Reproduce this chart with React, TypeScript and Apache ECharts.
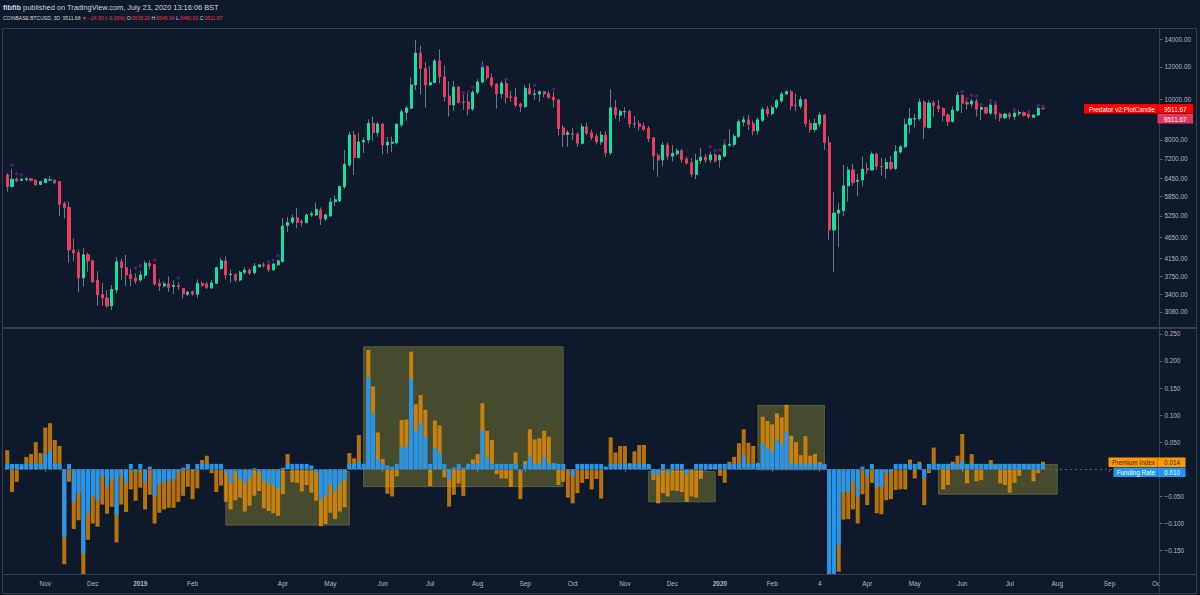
import React, { useEffect, useRef } from 'react';
import * as echarts from 'echarts';

// ---------- data ----------
const firstBarDate = '2018-10-08';
const barDays = 3;
const slotCount = 243;

const opens = [
  6584, 6180, 6440, 6390, 6420, 6450, 6400, 6250, 6310, 6400,
  6400, 6350, 5620, 5500, 4344, 4280, 3720, 4230, 4090, 3678,
  3390, 3330, 3185, 3480, 4070, 3940, 3790, 3720, 3678, 3775,
  4035, 4005, 3610, 3560, 3600, 3545, 3570, 3510, 3400, 3450,
  3400, 3610, 3600, 3520, 3610, 3920, 4090, 3790, 3790, 3678,
  3840, 3885, 3830, 3960, 4000, 4000, 3890, 4000, 4080, 4980,
  5070, 5190, 5090, 5050, 5280, 5275, 5420, 5160, 5250, 5680,
  5700, 6170, 6960, 8220, 7250, 7910, 7995, 8770, 8330, 8740,
  7776, 7850, 7880, 8690, 9320, 9540, 10850, 12950, 11880, 10850,
  11000, 12400, 11350, 10200, 9710, 10720, 9880, 9880, 9500, 10420,
  11030, 12000, 11300, 10900, 10330, 10950, 10160, 10150, 9760, 9620,
  10650, 10300, 10320, 10450, 10350, 10150, 9990, 8550, 8250, 8280,
  8250, 7850, 8600, 8320, 8150, 7910, 8220, 7450, 9580, 9170,
  9350, 9370, 8770, 8740, 8640, 8530, 8090, 7330, 7156, 7776,
  7310, 7410, 7530, 7200, 7050, 6610, 7140, 7270, 7160, 7360,
  7156, 7310, 7770, 7800, 8160, 8830, 8940, 8760, 8410, 8920,
  9480, 9260, 9600, 9930, 10320, 10450, 9700, 9640, 10000, 8760,
  8470, 8740, 9184, 7880, 4854, 5330, 5400, 6200, 6771, 6360,
  6405, 6830, 6771, 7390, 6900, 6830, 7060, 6830, 7480, 7700,
  8720, 8980, 9000, 9870, 8570, 9840, 9670, 9520, 9184, 8860,
  9420, 10240, 9840, 9760, 9920, 9480, 9570, 9280, 9708, 9230,
  9050, 9230, 9100, 9250, 9310, 9230, 9070, 9184, 9536.2,
];
const highs = [
  6645, 6800, 6500, 6480, 6500, 6480, 6430, 6380, 6470, 6550,
  6420, 6360, 5680, 5680, 4630, 4360, 4400, 4280, 4120, 3860,
  3620, 3480, 3577, 4170, 4140, 4225, 3910, 3820, 3870, 4095,
  4100, 4020, 3690, 3650, 3750, 3678, 3640, 3520, 3460, 3470,
  3690, 3650, 3640, 3680, 3960, 4165, 4190, 3900, 3820, 3870,
  3950, 3920, 4040, 4010, 4050, 4030, 4050, 4120, 5190, 5220,
  5280, 5480, 5150, 5320, 5390, 5660, 5500, 5320, 5800, 5870,
  6200, 7560, 8370, 8400, 8330, 8100, 8970, 9100, 8850, 8770,
  8130, 8150, 8770, 9480, 9660, 11300, 13900, 13480, 12310, 12050,
  12550, 13230, 12090, 11080, 11100, 10780, 10300, 10370, 10550, 11200,
  12360, 12080, 11570, 10950, 11100, 11200, 10500, 10650, 9830, 10850,
  10950, 10600, 10550, 10500, 10500, 10450, 10050, 8680, 8450, 8550,
  8350, 8750, 8800, 8480, 8280, 8400, 8400, 10600, 9980, 9480,
  9600, 9460, 9150, 8900, 8800, 8640, 8120, 7430, 7900, 7880,
  7770, 7650, 7620, 7290, 7230, 7410, 7660, 7400, 7500, 7430,
  7400, 7880, 8480, 8260, 8960, 9120, 9184, 8900, 9060, 9600,
  9650, 9700, 10050, 10450, 10550, 10550, 10350, 10200, 10050, 8950,
  9000, 9350, 9230, 8160, 6000, 5650, 6960, 6900, 7000, 6620,
  7290, 7060, 7500, 7450, 7230, 7230, 7330, 7776, 7776, 9000,
  9530, 9250, 10050, 9960, 9960, 9960, 9980, 9600, 9260, 9640,
  10450, 10300, 10000, 10050, 10050, 9650, 9620, 9830, 9800, 9300,
  9270, 9330, 9400, 9440, 9360, 9330, 9230, 9600, 9549.94,
];
const lows = [
  6000, 6150, 6330, 6360, 6350, 6360, 6200, 6230, 6300, 6380,
  6250, 5240, 5180, 4050, 4070, 3440, 3550, 3850, 3620, 3190,
  3190, 3150, 3114, 3420, 3678, 3560, 3550, 3600, 3640, 3710,
  3900, 3560, 3460, 3530, 3440, 3400, 3480, 3320, 3360, 3375,
  3330, 3550, 3500, 3500, 3600, 3890, 3690, 3630, 3640, 3650,
  3790, 3780, 3790, 3950, 3940, 3840, 3870, 3980, 4050, 4800,
  5020, 4900, 4940, 5040, 5220, 5250, 4990, 5100, 5220, 5550,
  5680, 6100, 6880, 6584, 7230, 7440, 7850, 7960, 8140, 7390,
  7420, 7480, 7800, 8590, 8900, 9500, 10550, 10300, 9570, 10800,
  10950, 10960, 9900, 9110, 9400, 9780, 9450, 9170, 9380, 10320,
  10950, 11150, 10700, 9520, 10050, 9800, 9880, 9580, 9350, 9560,
  10260, 10000, 9880, 10150, 10050, 9580, 8200, 7700, 7700, 7995,
  7700, 7800, 8200, 7990, 7800, 7780, 7280, 7357, 9000, 8850,
  9050, 8560, 8560, 8430, 8400, 7900, 6771, 6520, 6900, 7160,
  7100, 7330, 7050, 6980, 6520, 6430, 7000, 7050, 7050, 7050,
  6860, 7250, 7700, 7700, 8100, 8620, 8450, 8200, 8230, 8830,
  9100, 9160, 9480, 9800, 10250, 9440, 9380, 9500, 8590, 8330,
  8330, 8600, 7570, 4600, 3850, 4410, 5250, 5680, 6200, 5860,
  6170, 6610, 6750, 6771, 6560, 6460, 6750, 6771, 7410, 7650,
  8300, 8560, 8900, 8040, 8520, 9100, 9330, 8870, 8640, 8800,
  9320, 9290, 9450, 9570, 9100, 8930, 9230, 9180, 8970, 8870,
  8980, 8970, 8930, 9130, 9110, 9000, 9050, 9130, 9480.01,
];
const closes = [
  6170, 6430, 6380, 6430, 6450, 6390, 6240, 6350, 6440, 6410,
  6310, 5600, 5490, 4344, 4270, 3720, 4230, 4090, 3640, 3385,
  3330, 3185, 3490, 4070, 3940, 3782, 3700, 3660, 3782, 4035,
  3975, 3600, 3560, 3600, 3530, 3570, 3540, 3400, 3440, 3400,
  3610, 3570, 3530, 3620, 3940, 4090, 3782, 3800, 3678, 3840,
  3885, 3820, 3970, 4000, 3985, 3890, 4020, 4090, 4960, 5060,
  5190, 5060, 5050, 5275, 5310, 5440, 5160, 5275, 5670, 5740,
  6180, 6990, 8220, 7250, 7910, 7970, 8770, 8330, 8740, 7776,
  7900, 7900, 8730, 9350, 9550, 10850, 12950, 11880, 10850, 11000,
  12400, 11350, 10170, 9710, 10720, 9850, 9850, 9500, 10410, 11030,
  12000, 11300, 10850, 10320, 10950, 10130, 10130, 9710, 9620, 10650,
  10320, 10330, 10450, 10320, 10120, 9980, 8520, 8230, 8330, 8250,
  7850, 8600, 8300, 8110, 7910, 8220, 7450, 9560, 9184, 9370,
  9370, 8740, 8730, 8610, 8480, 8060, 7330, 7156, 7776, 7310,
  7430, 7530, 7180, 7030, 6610, 7140, 7270, 7156, 7360, 7120,
  7330, 7776, 7810, 8160, 8850, 8940, 8720, 8400, 8940, 9480,
  9260, 9560, 9940, 10320, 10450, 9650, 9660, 10000, 8760, 8470,
  8760, 9184, 7880, 4854, 5330, 5420, 6200, 6771, 6310, 6400,
  6800, 6771, 7390, 6900, 6880, 7060, 6830, 7500, 7700, 8720,
  9000, 9010, 9870, 8590, 9810, 9660, 9500, 9150, 8850, 9443,
  10240, 9800, 9760, 9920, 9480, 9570, 9280, 9708, 9230, 9050,
  9230, 9100, 9270, 9310, 9170, 9090, 9184, 9536, 9511.67,
];

const fundingRate = [
  0.010, 0.010, 0.010, 0.010, 0.010, 0.010, 0.010, 0.010, 0.028, 0.034,
  0.010, 0.010, -0.125, 0.010, -0.060, -0.044, -0.155, -0.081, -0.050, -0.057,
  -0.013, -0.032, -0.018, -0.084, -0.012, -0.025, 0.010, -0.006, 0.010, -0.023,
  0.005, -0.049, -0.028, -0.022, -0.022, -0.018, -0.006, 0.003, 0.010, -0.003,
  0.010, 0.010, 0.010, 0.010, 0.010, 0.010, -0.007, -0.025, -0.006, -0.018,
  -0.026, -0.017, 0.002, -0.006, -0.022, -0.026, -0.030, -0.036, 0.003, 0.010,
  0.010, 0.010, 0.010, 0.010, 0.007, -0.006, -0.055, -0.049, -0.028, -0.040,
  -0.027, -0.018, 0.010, 0.010, 0.014, 0.010, 0.170, 0.103, 0.018, 0.010,
  0.007, 0.005, 0.010, 0.040, 0.042, 0.166, 0.070, 0.085, 0.060, 0.010,
  0.040, 0.030, 0.010, -0.018, 0.003, 0.010, 0.003, 0.010, 0.010, 0.010,
  0.071, 0.022, 0.010, 0.010, 0.010, 0.010, 0.010, 0.010, -0.004, 0.010,
  0.023, 0.010, 0.010, 0.022, 0.010, 0.011, 0.010, 0.010, -0.001, -0.013,
  0.010, 0.010, 0.010, 0.010, 0.010, 0.010, 0.005, 0.010, 0.010, 0.010,
  0.010, 0.010, 0.010, 0.010, 0.010, 0.010, -0.010, -0.010, 0.010, -0.007,
  0.010, 0.010, 0.010, -0.010, -0.001, 0.010, 0.010, 0.010, 0.010, 0.010,
  0.010, 0.010, 0.010, 0.010, 0.010, 0.025, 0.010, 0.010, 0.011, 0.048,
  0.039, 0.033, 0.054, 0.046, 0.068, 0.011, 0.010, 0.010, 0.010, 0.010,
  0.010, 0.010, 0.010, -0.250, -0.230, -0.140, -0.043, -0.041, -0.023, -0.050,
  0.005, -0.013, 0.010, -0.032, -0.032, -0.007, -0.006, 0.010, 0.010, 0.010,
  0.010, 0.010, 0.010, -0.017, 0.010, 0.010, 0.010, 0.010, 0.010, 0.010,
  0.010, 0.015, 0.010, 0.010, 0.010, 0.010, 0.010, 0.010, 0.010, 0.010,
  0.010, 0.010, 0.010, 0.010, 0.010, 0.010, 0.010, 0.010, 0.010,
];
const premiumIndex = [
  0.035, -0.042, -0.023, 0.005, 0.023, 0.028, 0.050, 0.030, 0.077, 0.085,
  0.054, 0.043, -0.175, -0.023, -0.110, -0.094, -0.210, -0.130, -0.100, -0.106,
  -0.065, -0.082, -0.069, -0.135, -0.065, -0.079, -0.037, -0.058, -0.034, -0.074,
  -0.047, -0.100, -0.080, -0.074, -0.071, -0.071, -0.060, -0.049, -0.032, -0.055,
  -0.035, 0.017, 0.025, -0.007, -0.042, -0.030, -0.060, -0.074, -0.057, -0.052,
  -0.078, -0.067, -0.049, -0.040, -0.072, -0.077, -0.081, -0.086, -0.046, 0.028,
  -0.024, -0.025, -0.041, -0.029, -0.043, -0.058, -0.105, -0.101, -0.080, -0.092,
  -0.078, -0.070, 0.030, 0.020, 0.063, 0.005, 0.220, 0.153, 0.068, 0.019,
  -0.045, -0.050, -0.013, 0.091, 0.092, 0.217, 0.120, 0.137, 0.110, -0.031,
  0.090, 0.081, -0.015, -0.069, -0.047, -0.026, -0.049, 0.005, 0.018, 0.028,
  0.122, 0.071, 0.054, -0.009, -0.017, -0.017, -0.032, 0.031, -0.055, 0.015,
  0.074, 0.055, 0.057, 0.071, 0.060, 0.011, -0.029, -0.023, -0.052, -0.063,
  -0.044, -0.025, -0.018, -0.037, -0.018, -0.054, 0.003, 0.059, 0.031, 0.043,
  0.043, 0.011, 0.033, 0.045, 0.045, 0.008, -0.020, -0.063, -0.044, -0.050,
  -0.039, -0.040, -0.042, -0.060, -0.050, -0.052, -0.018, -0.002, 0.006, 0.006,
  -0.012, -0.025, 0.014, 0.023, 0.048, 0.074, 0.049, 0.043, 0.011, 0.097,
  0.089, 0.083, 0.103, 0.096, 0.119, 0.062, 0.050, 0.026, 0.061, 0.025,
  0.028, 0.013, 0.008, -0.300, -0.280, -0.189, -0.093, -0.092, -0.074, -0.100,
  -0.046, -0.066, -0.025, -0.081, -0.083, -0.057, -0.055, -0.038, -0.037, -0.037,
  0.018, -0.017, 0.014, -0.066, -0.007, 0.040, -0.001, -0.037, -0.029, 0.014,
  0.025, 0.065, -0.026, 0.028, -0.022, -0.020, 0.008, 0.017, 0.008, -0.026,
  -0.029, -0.043, -0.025, -0.012, 0.008, 0.008, -0.022, -0.007, 0.014,
];

// Predator dots (bar index, price)
const dotBars = [1, 2, 3, 27, 28, 31, 36, 55, 56, 57, 96, 97, 98, 100, 105, 111, 115, 148, 149, 150, 151, 201, 202, 203, 204, 205, 207, 208, 212, 215, 217, 218];
const dotPrices = [6960, 6630, 6590, 3930, 3980, 4110, 3725, 4070, 4110, 4210, 10390, 10450, 10720, 12080, 11200, 10850, 10610, 7700, 7530, 7564, 7960, 10450, 10060, 10240, 10200, 9730, 9940, 9850, 9470, 9360, 9690, 9650];

// highlight boxes: [fromBar, toBar, topValue, bottomValue]
const boxFromBar = [46, 75, 135, 158, 196];
const boxToBar = [72, 117, 149, 172, 221];
const boxTop = [-0.004, 0.226, -0.004, 0.118, 0.009];
const boxBottom = [-0.103, -0.032, -0.060, -0.001, -0.046];

const monthTickBar = [8, 18, 28, 39, 58, 68, 79, 89, 99, 109, 119, 130, 140, 150, 161, 171, 181, 191, 201, 211, 221, 232, 242];
const monthTickText = ['Nov', 'Dec', '2019', 'Feb', 'Apr', 'May', 'Jun', 'Jul', 'Aug', 'Sep', 'Oct', 'Nov', 'Dec', '2020', 'Feb', '4', 'Apr', 'May', 'Jun', 'Jul', 'Aug', 'Sep', 'Oct'];

const priceTicks = [3080, 3400, 3750, 4150, 4650, 5250, 5850, 6450, 7200, 8000, 9000, 10000, 12000, 14000];
const rateTicks = [-0.15, -0.1, -0.05, 0.05, 0.1, 0.15, 0.2, 0.25];

// ---------- style ----------
const BG = '#0e1a2b';
const FRAME = '#363c4e';
const AXIS_TEXT = '#b2b5be';
const UP = '#0fe2a2';
const DOWN = '#ec3b5c';
const WICK = '#737785';
const FONT = 'Liberation Sans, Arial, sans-serif';
const FS = 6.4;
const HFS2 = 5;

function buildCategories(): string[] {
  const out: string[] = [];
  const t0 = Date.parse(firstBarDate + 'T00:00:00Z');
  for (let k = 0; k < slotCount; k++) {
    const d = new Date(t0 + k * barDays * 86400000);
    out.push(d.toISOString().slice(0, 10));
  }
  return out;
}

function fmtRate(v: number): string {
  return (v < 0 ? '\u2212' : '') + Math.abs(v).toFixed(3);
}

export default function App() {
  const ref = useRef<HTMLDivElement>(null);
  useEffect(() => {
    const chart = echarts.init(ref.current!, null, { renderer: 'svg', width: 1200, height: 595 });
    const cats = buildCategories();
    const labelMap: Record<number, string> = {};
    monthTickBar.forEach((b, i) => (labelMap[b] = monthTickText[i]));

    const wickData = opens.map((o, i) => [o, closes[i], lows[i], highs[i]]);
    const bodyData = opens.map((o, i) => [o, closes[i], Math.min(o, closes[i]), Math.max(o, closes[i])]);
    const dots = dotBars.map((b, i) => [b, dotPrices[i]]);
    const boxes = boxFromBar.map((b, i) => [
      { xAxis: b, yAxis: boxTop[i] },
      { xAxis: boxToBar[i], yAxis: boxBottom[i] },
    ]);

    const gridLeft = 4.9;
    const gridWidth = 1154.5;
    const gridRight = 1200 - gridLeft - gridWidth;

    const lastClose = closes[closes.length - 1];
    const lastPrem = premiumIndex[premiumIndex.length - 1];
    const lastFund = fundingRate[fundingRate.length - 1];

    const option: any = {
      animation: false,
      backgroundColor: BG,
      textStyle: { fontFamily: FONT },
      grid: [
        { left: gridLeft, right: gridRight, top: 30, height: 297 },
        { left: gridLeft, right: gridRight, top: 329, height: 245 },
      ],
      xAxis: [
        { type: 'category', gridIndex: 0, data: cats, show: false, boundaryGap: true },
        {
          type: 'category', gridIndex: 1, data: cats, boundaryGap: true,
          axisLine: { show: false },
          axisTick: {
            show: true, alignWithLabel: true, length: 3,
            interval: (i: number) => labelMap[i] !== undefined,
            lineStyle: { color: '#5d6373' },
          },
          axisLabel: {
            interval: (i: number) => labelMap[i] !== undefined,
            formatter: (_v: string, i: number) => {
              const t = labelMap[i] || '';
              return /^\d{4}$/.test(t) ? '{y|' + t + '}' : t;
            },
            rich: { y: { fontWeight: 'bold', color: AXIS_TEXT, fontSize: FS, fontFamily: FONT } },
            color: AXIS_TEXT, fontSize: FS, fontFamily: FONT, margin: 6,
          },
          splitLine: { show: false },
        },
      ],
      yAxis: [
        {
          type: 'log', logBase: 10, gridIndex: 0, position: 'right',
          min: 2834, max: 14717,
          axisLine: { show: false },
          axisTick: { show: true, length: 3, customValues: priceTicks, lineStyle: { color: '#5d6373' } },
          axisLabel: {
            customValues: priceTicks,
            formatter: (v: number) => Number(v).toFixed(2),
            color: AXIS_TEXT, fontSize: FS, fontFamily: FONT, margin: 5,
          },
          splitLine: { show: false },
        },
        {
          type: 'value', gridIndex: 1, position: 'right',
          min: -0.1932, max: 0.2589,
          axisLine: { show: false },
          axisTick: { show: true, length: 3, customValues: rateTicks, lineStyle: { color: '#5d6373' } },
          axisLabel: {
            customValues: rateTicks,
            formatter: (v: number) => fmtRate(v),
            color: AXIS_TEXT, fontSize: FS, fontFamily: FONT, margin: 5,
          },
          splitLine: { show: false },
        },
      ],
      series: [
        {
          name: 'wick', type: 'candlestick', xAxisIndex: 0, yAxisIndex: 0,
          data: wickData, barWidth: 1, silent: true,
          itemStyle: { color: WICK, color0: WICK, borderColor: WICK, borderColor0: WICK, borderWidth: 1 },
        },
        {
          name: 'body', type: 'candlestick', xAxisIndex: 0, yAxisIndex: 0,
          data: bodyData, barWidth: 2.6, silent: true,
          itemStyle: { color: UP, color0: DOWN, borderColor: UP, borderColor0: DOWN, borderWidth: 1 },
        },
        {
          name: 'dots', type: 'scatter', xAxisIndex: 0, yAxisIndex: 0,
          data: dots, symbolSize: 3.6, silent: true,
          itemStyle: { color: '#58207c' },
        },
        {
          name: 'Premium Index', type: 'bar', xAxisIndex: 1, yAxisIndex: 1,
          data: premiumIndex, barWidth: 4, barGap: '-100%', clip: true, silent: true,
          itemStyle: { color: 'rgba(255,152,0,0.7)' },
          markLine: {
            silent: true, symbol: 'none', label: { show: false },
            lineStyle: { color: '#5d6373', type: [2, 3], width: 1 },
            data: [{ yAxis: 0 }],
          },
        },
        {
          name: 'Funding Rate', type: 'bar', xAxisIndex: 1, yAxisIndex: 1,
          data: fundingRate, barWidth: 4, barGap: '-100%', clip: true, silent: true,
          itemStyle: { color: '#2196f3' },
        },
        {
          name: 'boxes', type: 'line', xAxisIndex: 1, yAxisIndex: 1, data: [], z: 10, silent: true,
          markArea: {
            silent: true,
            itemStyle: { color: 'rgba(255,235,59,0.24)', borderColor: 'rgba(95,98,70,0.9)', borderWidth: 1 },
            data: boxes,
          },
        },
      ],
      graphic: [
        // frame
        { type: 'rect', z: 50, silent: true, shape: { x: 1160, y: 575, width: 36, height: 17 }, style: { fill: BG } },
        { type: 'rect', z: 51, silent: true, shape: { x: 2.5, y: 28.5, width: 1194, height: 565 }, style: { fill: 'none', stroke: FRAME, lineWidth: 1 } },
        { type: 'rect', z: 51, silent: true, shape: { x: 3, y: 327, width: 1193, height: 2 }, style: { fill: FRAME } },
        { type: 'line', z: 51, silent: true, shape: { x1: 3, y1: 574.5, x2: 1196, y2: 574.5 }, style: { stroke: FRAME, lineWidth: 1 } },
        { type: 'line', z: 51, silent: true, shape: { x1: 1159.5, y1: 29, x2: 1159.5, y2: 593 }, style: { stroke: FRAME, lineWidth: 1 } },
        // header
        {
          type: 'text', z: 60, x: 3, y: 7, silent: true,
          style: {
            text: '{b|fibfib} published on TradingView.com, July 23, 2020 13:16:06 BST',
            fill: '#d1d4dc', fontSize: 7.4, fontFamily: FONT, verticalAlign: 'middle',
            rich: { b: { fontWeight: 'bold', fill: '#d1d4dc', fontSize: 7.4, fontFamily: FONT } },
          },
        },
        {
          type: 'text', z: 60, x: 3, y: 18, silent: true,
          style: {
            text: '{w|COINBASE:BTCUSD, 3D}  {w|9511.68} {r|\u25BC \u221224.50 (\u22120.26%)} {w|O:}{r|9536.20} {w|H:}{r|9549.94} {w|L:}{r|9480.01} {w|C:}{r|9511.67}',
            fill: '#d1d4dc', fontSize: HFS2, fontFamily: FONT, verticalAlign: 'middle',
            rich: {
              w: { fill: '#d1d4dc', fontSize: HFS2, fontFamily: FONT },
              r: { fill: '#f0394f', fontSize: HFS2, fontFamily: FONT },
            },
          },
        },
        // price labels
        { type: 'rect', z: 60, silent: true, shape: { x: 1084, y: 104, width: 73.5, height: 9.5 }, style: { fill: '#ff0000' } },
        { type: 'text', z: 61, silent: true, x: 1155, y: 109, style: { text: 'Predator v2:PlotCandle', fill: '#ffffff', fontSize: FS, fontFamily: FONT, align: 'right', verticalAlign: 'middle' } },
        { type: 'rect', z: 60, silent: true, shape: { x: 1157.5, y: 104, width: 35.5, height: 9.5 }, style: { fill: '#ff0000' } },
        { type: 'text', z: 61, silent: true, x: 1164, y: 109, style: { text: lastClose.toFixed(2), fill: '#ffffff', fontSize: FS, fontFamily: FONT, verticalAlign: 'middle' } },
        { type: 'rect', z: 60, silent: true, shape: { x: 1157.5, y: 114, width: 35.5, height: 9.5 }, style: { fill: '#e5355d' } },
        { type: 'text', z: 61, silent: true, x: 1164, y: 119, style: { text: lastClose.toFixed(2), fill: '#ffffff', fontSize: FS, fontFamily: FONT, verticalAlign: 'middle' } },
        // rate labels
        { type: 'rect', z: 60, silent: true, shape: { x: 1108.5, y: 457.5, width: 49, height: 9.5 }, style: { fill: '#ff9800' } },
        { type: 'text', z: 61, silent: true, x: 1155, y: 462.3, style: { text: 'Premium Index', fill: '#3a2a10', fontSize: FS, fontFamily: FONT, align: 'right', verticalAlign: 'middle' } },
        { type: 'rect', z: 60, silent: true, shape: { x: 1157.5, y: 457.5, width: 28, height: 9.5 }, style: { fill: '#ff9800' } },
        { type: 'text', z: 61, silent: true, x: 1164, y: 462.3, style: { text: lastPrem.toFixed(3), fill: '#3a2a10', fontSize: FS, fontFamily: FONT, verticalAlign: 'middle' } },
        { type: 'rect', z: 60, silent: true, shape: { x: 1113.5, y: 467.5, width: 44, height: 9.5 }, style: { fill: '#2196f3' } },
        { type: 'text', z: 61, silent: true, x: 1155, y: 472.3, style: { text: 'Funding Rate', fill: '#ffffff', fontSize: FS, fontFamily: FONT, align: 'right', verticalAlign: 'middle' } },
        { type: 'rect', z: 60, silent: true, shape: { x: 1157.5, y: 467.5, width: 28, height: 9.5 }, style: { fill: '#2196f3' } },
        { type: 'text', z: 61, silent: true, x: 1164, y: 472.3, style: { text: lastFund.toFixed(3), fill: '#ffffff', fontSize: FS, fontFamily: FONT, verticalAlign: 'middle' } },
      ],
    };
    chart.setOption(option);
    return () => chart.dispose();
  }, []);
  return (
    <div
      ref={ref}
      style={{ position: 'absolute', left: 0, top: 0, width: 1200, height: 595, background: BG }}
    />
  );
}
